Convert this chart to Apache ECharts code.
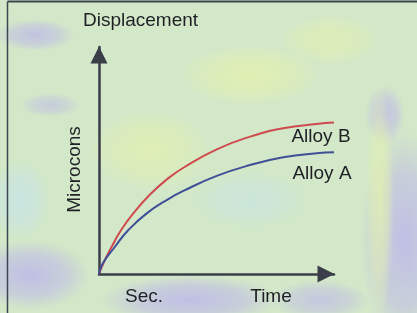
<!DOCTYPE html>
<html>
<head>
<meta charset="utf-8">
<script src="https://cdn.jsdelivr.net/npm/echarts@6.0.0/dist/echarts.min.js"></script>
<style>
  html, body { margin: 0; padding: 0; }
  #chart { width: 417px; height: 313px; }
</style>
</head>
<body>
<div id="chart"></div>
<script>
// --- Data (axis units 0..100) ---
var alloyAName = 'Alloy A';
var alloyBName = 'Alloy B';
var alloyATime = [0, 1.7, 6.8, 12.5, 20.3, 29.5, 35.9, 50.1, 64.3, 78.4, 92.6, 100];
var alloyADisp = [0, 4.8, 12, 19.4, 26.7, 33, 36.6, 43.2, 48, 51.4, 53.2, 53.6];
var alloyBTime = [0, 2.2, 5.4, 9.5, 14.6, 21.7, 28.8, 35.9, 50.1, 64.3, 78.4, 92.6, 100];
var alloyBDisp = [0, 5.5, 12, 19.5, 26.7, 35, 41.6, 46.8, 54.9, 60.5, 64.2, 66.1, 66.7];
var axisTitles = ['Displacement', 'Microcons', 'Sec.', 'Time'];

(function () {
  'use strict';

  function pairs(xs, ys) {
    return xs.map(function (x, i) { return [x, ys[i]]; });
  }

  var ink = '#1f2026';
  var axisColor = '#3b3d48';
  var font = 'Liberation Sans, Arial, sans-serif';

  // soft blobs for the mottled paper behind the chart
  function blob(cx, cy, rx, ry, rgb, a) {
    return {
      type: 'circle', silent: true, z: -10,
      x: cx, y: cy, scaleX: rx / ry, scaleY: 1,
      shape: { cx: 0, cy: 0, r: ry },
      style: {
        fill: new echarts.graphic.RadialGradient(0.5, 0.5, 0.5, [
          { offset: 0, color: 'rgba(' + rgb + ',' + a + ')' },
          { offset: 0.6, color: 'rgba(' + rgb + ',' + (a * 0.6) + ')' },
          { offset: 1, color: 'rgba(' + rgb + ',0)' }
        ])
      }
    };
  }

  var lav = '190,186,232';
  var yel = '226,240,176';
  var sky = '196,226,236';

  var chart = echarts.init(document.getElementById('chart'), null, { renderer: 'canvas' });

  var option = {
    backgroundColor: '#d3e8c8',
    animation: false,
    grid: { left: 99, right: 83, top: 47, bottom: 39 },
    xAxis: {
      type: 'value', min: 0, max: 100,
      axisLine: {
        lineStyle: { color: axisColor, width: 2.5 },
        symbol: ['none', 'triangle'], symbolSize: [17, 17], symbolOffset: [0, -8]
      },
      axisTick: { show: false }, axisLabel: { show: false }, splitLine: { show: false }
    },
    yAxis: {
      type: 'value', min: 0, max: 100,
      axisLine: {
        show: true,
        lineStyle: { color: axisColor, width: 2.5 },
        symbol: ['none', 'triangle'], symbolSize: [17, 17], symbolOffset: [0, -8]
      },
      axisTick: { show: false }, axisLabel: { show: false }, splitLine: { show: false }
    },
    series: [
      {
        name: alloyBName, type: 'line', smooth: 0.5, showSymbol: false,
        data: pairs(alloyBTime, alloyBDisp),
        lineStyle: { color: '#cf4a4e', width: 2 },
        endLabel: {
          show: true, formatter: '{a}', color: ink, fontFamily: font, fontSize: 19,
          align: 'center', verticalAlign: 'middle', offset: [-21, 14]
        }
      },
      {
        name: alloyAName, type: 'line', smooth: 0.5, showSymbol: false,
        data: pairs(alloyATime, alloyADisp),
        lineStyle: { color: '#3e4f98', width: 2 },
        endLabel: {
          show: true, formatter: '{a}', color: ink, fontFamily: font, fontSize: 19,
          align: 'center', verticalAlign: 'middle', offset: [-20, 21]
        }
      }
    ],
    graphic: [
      blob(35, 35, 40, 16, lav, 0.8),
      blob(50, 105, 30, 12, lav, 0.6),
      blob(20, 200, 30, 40, sky, 0.7),
      blob(30, 275, 60, 35, lav, 0.9),
      blob(190, 300, 90, 25, lav, 0.9),
      blob(320, 300, 50, 20, lav, 0.7),
      blob(405, 240, 45, 110, lav, 0.9),
      blob(385, 115, 20, 30, lav, 0.8),
      blob(250, 75, 70, 30, yel, 0.9),
      blob(150, 150, 60, 40, yel, 0.8),
      blob(330, 40, 50, 25, yel, 0.7),
      blob(380, 200, 14, 120, yel, 0.8),
      blob(250, 200, 60, 30, sky, 0.5),
      // frame on the left and top
      { type: 'line', silent: true, shape: { x1: 7.5, y1: 1.5, x2: 7.5, y2: 313 },
        style: { stroke: '#3c4650', lineWidth: 1.5 } },
      { type: 'line', silent: true, shape: { x1: 7.5, y1: 1.5, x2: 417, y2: 1.5 },
        style: { stroke: '#3c4650', lineWidth: 2 } },
      // axis titles
      { type: 'text', x: 140.5, y: 21, silent: true,
        style: { text: axisTitles[0], fill: ink, font: '19px ' + font, textAlign: 'center', textVerticalAlign: 'middle' } },
      { type: 'text', x: 75, y: 169.5, rotation: Math.PI / 2, silent: true,
        style: { text: axisTitles[1], fill: ink, font: '19px ' + font, textAlign: 'center', textVerticalAlign: 'middle' } },
      { type: 'text', x: 144, y: 297, silent: true,
        style: { text: axisTitles[2], fill: ink, font: '19px ' + font, textAlign: 'center', textVerticalAlign: 'middle' } },
      { type: 'text', x: 271, y: 297, silent: true,
        style: { text: axisTitles[3], fill: ink, font: '19px ' + font, textAlign: 'center', textVerticalAlign: 'middle' } }
    ]
  };

  chart.setOption(option);
})();
</script>
</body>
</html>
